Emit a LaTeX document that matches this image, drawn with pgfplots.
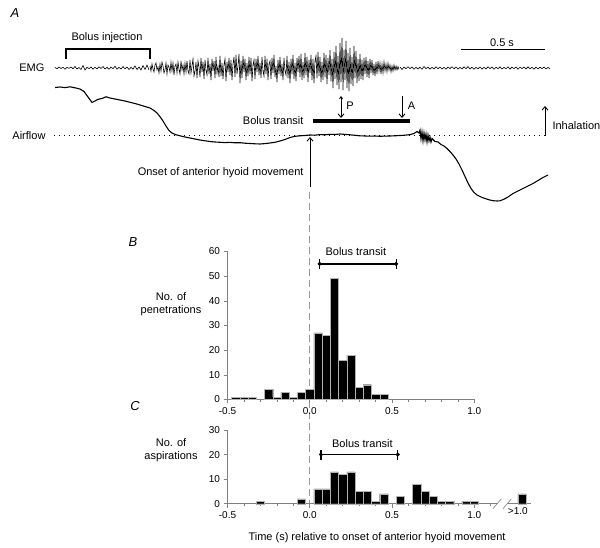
\documentclass[border=0pt]{standalone}
\usepackage{pgfplots}
\pgfplotsset{compat=1.18}
\usetikzlibrary{arrows.meta}
\usepackage{fontspec}
\setmainfont{Liberation Sans}
\newcommand{\lbl}{\fontsize{11}{13.5}\selectfont}
\newcommand{\tkl}{\fontsize{10}{12}\selectfont}
\newcommand{\pnl}{\fontsize{13}{15}\selectfont\itshape}
\pgfplotstableread{
x y
-0.45 1
-0.40 1
-0.35 1
-0.25 4
-0.20 1
-0.15 3
-0.10 1
-0.05 3
0.00 4
0.05 27
0.10 26
0.15 49
0.20 16
0.25 18
0.30 5
0.35 6
0.40 2
0.45 2
}\pen
\pgfplotstableread{
x y
-0.30 1
-0.05 2
0.05 6
0.10 6
0.15 13
0.20 12
0.25 13
0.30 5
0.35 5
0.40 1
0.45 4
0.55 3
0.65 8
0.70 5
0.75 3
0.80 1
0.85 1
0.95 1
1.00 1
1.29 4
}\asp
\pgfplotsset{
  histo/.style={
    scale only axis, enlargelimits=false, clip=false,
    axis x line*=bottom, axis y line*=left,
    axis line style={-, gray, line width=0.6pt},
    tick align=outside, major tick length=4pt, minor tick length=2.5pt,
    tick style={gray, line width=0.6pt},
    ticklabel style={font=\tkl, black},
    /pgf/number format/assume math mode=true,
    xtick={-0.5,0,0.5,1}, xticklabels={-0.5,0.0,0.5,1.0},
  },
  hbar/.style={ybar, bar width=0.05, bar shift=0pt, fill=black, draw=gray!60, line width=0.3pt},
}
\tikzset{arr/.style={black, line width=0.9pt, -{Straight Barb[length=3.5pt,width=6pt]}}}
\begin{document}
\begin{tikzpicture}[x=1pt,y=1pt]
\path[use as bounding box] (0,0) rectangle (600,548);
% ---------------- Panel A (image-pixel coordinates) ----------------
\begin{axis}[at={(0,0)}, anchor=south west, scale only axis, width=600pt, height=548pt,
  xmin=0, xmax=600, ymin=0, ymax=548, y dir=reverse, hide axis, clip=false]
% EMG trace: quiet start (2 px steps)
\addplot[black, line width=0.6pt] table[row sep=\\, x expr={55+2*\coordindex}, y expr={68-\thisrow{d}}] {
d\\ 0.5\\ -0.8\\ 1\\ -0.5\\ 0.8\\ -1.2\\ 0.6\\ -0.4\\ 1\\ -0.8\\ 1.5\\ -1\\ 0.5\\ -1.5\\ 2.5\\ -2\\ 0.8\\ -0.6\\ 1\\ -1.2\\
0.7\\ -0.9\\ 1.2\\ -0.5\\ 1.5\\ -1\\ 0.6\\ -1.3\\ 0.9\\ -0.7\\ 1.8\\ -1.2\\ 0.6\\ -1\\ 1.4\\ -0.8\\ 1\\ -1.5\\ 0.7\\ -1.1\\
2\\ -1.5\\ 1\\ -2\\ 2.5\\ -1.5\\ 3\\ -2\\
};
% EMG trace: active part (1 px steps)
\addplot[black, line width=0.6pt] table[row sep=\\, x expr={150+\coordindex}, y expr={68-\thisrow{d}}] {
d\\ 2\\ -3\\ 4\\ -1\\ -4\\ 3\\ 5\\ -2\\ 1\\ -5\\
4\\ -3\\ 6\\ 2\\ -5\\ -2\\ 5\\ -6\\ 3\\ 1\\
-4\\ 6\\ -3\\ 5\\ -7\\ 2\\ 4\\ -5\\ 6\\ -1\\
-6\\ 7\\ -2\\ 3\\ -6\\ 5\\ -4\\ 7\\ -3\\ -6\\
8\\ -5\\ 2\\ 9\\ -8\\ -3\\ 6\\ -10\\ 7\\ 1\\
-9\\ 10\\ -4\\ 6\\ -11\\ 8\\ -2\\ -7\\ 10\\ -6\\
4\\ -12\\ 9\\ -3\\ 7\\ -10\\ 11\\ -5\\ 2\\ -9\\
12\\ -8\\ 5\\ -11\\ 3\\ 9\\ -13\\ 6\\ -4\\ 10\\
-7\\ 8\\ -12\\ 4\\ 11\\ -9\\ 13\\ -6\\ 2\\ 14\\
-15\\ 7\\ -10\\ 12\\ -4\\ 9\\ -12\\ 5\\ -8\\ 11\\
-6\\ 10\\ -13\\ 3\\ 8\\ -11\\ 9\\ -4\\ 12\\ -7\\
5\\ -10\\ 11\\ -3\\ -8\\ 12\\ -6\\ 9\\ -12\\ 4\\
7\\ -11\\ 10\\ -5\\ 13\\ -9\\ 2\\ -14\\ 8\\ -6\\
11\\ -8\\ 4\\ -12\\ 10\\ -3\\ -7\\ 12\\ -10\\ 6\\
-15\\ 9\\ -6\\ 13\\ -11\\ 5\\ -13\\ 10\\ -4\\ 12\\
-9\\ 14\\ -12\\ 6\\ -10\\ 15\\ -7\\ 11\\ -14\\ 8\\
-5\\ 13\\ -12\\ 9\\ -15\\ 7\\ 12\\ -10\\ 16\\ -8\\
11\\ -14\\ 6\\ -12\\ 15\\ -9\\ 13\\ -16\\ 10\\ -7\\
18\\ -13\\ 9\\ -20\\ 16\\ -11\\ 22\\ -17\\ 12\\ -21\\
25\\ -14\\ 30\\ -22\\ 18\\ -12\\ 27\\ -20\\ 15\\ -23\\
20\\ -16\\ 11\\ -18\\ 22\\ -10\\ 17\\ -15\\ 9\\ -13\\
14\\ -11\\ 8\\ -12\\ 10\\ -6\\ 11\\ -9\\ 7\\ -10\\
9\\ -5\\ 8\\ -7\\ 4\\ -8\\ 6\\ -6\\ 7\\ -3\\
5\\ -6\\ 4\\ -5\\ 6\\ -3\\ 4\\ -4\\ 5\\ -2\\
3\\ -4\\ 2\\ -3\\ 3\\ -2\\ 2\\ -2\\ 1.5\\ -1.5\\
};
% EMG trace: quiet end (2 px steps)
\addplot[black, line width=0.6pt] table[row sep=\\, x expr={400+2*\coordindex}, y expr={68-\thisrow{d}}] {
d\\ 1\\ -1.5\\ 1\\ -0.8\\ 1.2\\ -0.6\\ 1\\ -1.3\\ 0.7\\ -1\\ 0.8\\ -1.2\\ 1.5\\ -0.7\\ 0.9\\ -1.1\\ 0.6\\ -0.9\\ 1.2\\ -0.8\\
1\\ -1\\ 0.7\\ -1.2\\ 0.9\\ -0.6\\ 1.3\\ -0.8\\ 1\\ -1.1\\ 0.6\\ -0.9\\ 1.1\\ -0.7\\ 1.4\\ -1\\ 0.8\\ -1.2\\ 0.6\\ -0.8\\
1\\ -1.1\\ 0.7\\ -0.9\\ 1.2\\ -0.6\\ 1\\ -1.3\\ 0.8\\ -0.7\\ 1.1\\ -1\\ 0.6\\ -0.8\\ 1.2\\ -1.1\\ 0.9\\ -0.7\\ 1\\ -1.2\\
0.8\\ -0.6\\ 1\\ -0.9\\ 1.1\\ -0.8\\ 0.7\\ -1.2\\ 0.9\\ -1\\ 0.8\\ -0.7\\ 1\\ -0.9\\ 0.6\\ -1\\
};
% Airflow baseline (dotted)
\addplot[black, line width=1pt, dash pattern=on 1pt off 4pt] coordinates {(54,136) (545,136)};
% Airflow trace
\addplot[black, line width=1.1pt] coordinates {
(55,87.5) (60,87) (65,87.6) (70,86.8) (75,87.8) (80,89) (84,91.5) (88,97) (92,102.5) (95,101)
(98,99.3) (102,98.5) (106,96.8) (110,98) (115,99) (120,100) (125,101) (130,102.3) (135,103.5) (140,105)
(145,106.5) (150,108) (154,110.5) (157,113) (160,116.7) (163,121) (166,126) (169,130.5) (172,133) (176,134.8)
(180,135.8) (185,137) (190,138) (195,139) (200,140) (205,140.8) (210,141.5) (215,142) (220,142.3) (225,142.6)
(230,142.4) (235,142.8) (240,142.7) (245,143.2) (250,143.5) (255,143.8) (260,144) (265,143.6) (270,143) (275,142.3)
(280,141) (285,139.5) (290,137.5) (295,136.3) (300,135.8) (305,135.5) (310,135) (315,135.2) (320,134.6) (325,134.8)
(330,134.3) (335,134.5) (340,134) (345,134.4) (350,134.8) (355,135.3) (360,135.8) (365,136) (370,136.2) (375,136)
(380,136.3) (385,136.1) (390,136) (395,135.8) (400,135.5) (405,135.2) (410,134.6) (414,133.5) (417,131.5) (419,133)
(420,130) (421,139) (422,132) (423,141) (424,133) (425,140) (426,134) (427,142) (428,135) (429,141) (430,137) (431,142) (432,138.5)
(435,141.5) (438,142) (441,144.5) (444,146) (447,148.5) (450,151.5) (453,155) (456,159) (459,164) (462,170)
(465,176.5) (468,183) (471,188.5) (474,192.5) (477,195) (481,197) (485,198.5) (489,199.8) (493,200.7) (497,201)
(500,200.8) (504,199.2) (508,197) (513,193.5) (518,191) (523,188.5) (528,186) (533,183.5) (538,180.5) (543,177.5) (548,175)
};
% annotations
\node[font=\pnl] at (15,13) {A};
\node[font=\lbl, anchor=east] at (48,68) {EMG};
\node[font=\lbl, anchor=east] at (49,136) {Airflow};
\node[font=\lbl] at (107,37.5) {Bolus injection};
\draw[black, line width=1.5pt] (66,59.5) -- (66,49) -- (150,49) -- (150,59.5);
\node[font=\lbl] at (502,43) {0.5 s};
\draw[black, line width=1.5pt] (461,49.3) -- (545,49.3);
\node[font=\lbl, anchor=east] at (307,120.5) {Bolus transit};
\draw[black, line width=4pt] (312.7,120.7) -- (410,120.7);
\draw[arr] (341,97) -- (341,118);
\draw[black, line width=0.9pt, -{Straight Barb[length=2pt,width=3pt]}] (341,100) -- (341,96);
\node[font=\lbl] at (350,106) {P};
\draw[arr] (402,96) -- (402,118);
\node[font=\lbl] at (411.5,106) {A};
\draw[arr] (545,136) -- (545,106);
\node[font=\lbl, anchor=west] at (549,126) {Inhalation};
\draw[arr] (310,187) -- (310,137);
\node[font=\lbl, anchor=east] at (307,172.7) {Onset of anterior hyoid movement};
\draw[gray!80, line width=0.7pt, dash pattern=on 7pt off 4pt] (309.7,192) -- (309.7,503.7);
\node[font=\pnl] at (133,242) {B};
\node[font=\pnl] at (135,406) {C};
\node[font=\lbl, align=center] at (171,304) {No. of\\penetrations};
\node[font=\lbl, align=center] at (171,450) {No. of\\aspirations};
\node[font=\lbl] at (377,538) {Time (s) relative to onset of anterior hyoid movement};
\end{axis}
% ---------------- Panel B ----------------
\begin{axis}[histo, at={(227.5pt,148.5pt)}, anchor=south west,
  width=246.75pt, height=148pt, xmin=-0.5, xmax=1.0, ymin=0, ymax=60,
  minor xtick={-0.4,-0.3,-0.2,-0.1,0.1,0.2,0.3,0.4,0.6,0.7,0.8,0.9},
  ytick={0,10,...,60}]
\addplot[hbar] table[x=x, y=y] {\pen};
\addplot[black, line width=1.6pt, mark=|, mark size=5pt, mark options={line width=1.2pt}] coordinates {(0.06,55) (0.525,55)};
\addplot[black, only marks, mark=*, mark size=1.8pt] coordinates {(0.06,55) (0.525,55)};
\node[font=\lbl] at (0.28,59.8) {Bolus transit};
\end{axis}
% ---------------- Panel C ----------------
\begin{axis}[histo, at={(227.5pt,44.3pt)}, anchor=south west,
  width=303.5pt, height=73.7pt, xmin=-0.5, xmax=1.345, ymin=0, ymax=30,
  minor xtick={-0.4,-0.3,-0.2,-0.1,0.1,0.2,0.3,0.4,0.6,0.7,0.8,0.9,1.1},
  ytick={0,10,20,30},
  extra x ticks={1.265}, extra x tick labels={>1.0},
  extra x tick style={major tick length=0pt}]
\addplot[hbar] table[x=x, y=y] {\asp};
\addplot[black, line width=1.6pt, mark=|, mark size=5pt, mark options={line width=1.2pt}] coordinates {(0.068,20) (0.535,20)};
\addplot[black, only marks, mark=*, mark size=1.8pt] coordinates {(0.068,20) (0.535,20)};
\node[font=\lbl] at (0.32,24.3) {Bolus transit};
\fill[white] (1.14,-1) rectangle (1.2,1);
\draw[gray, line width=0.6pt] (1.114,-2) -- (1.165,2);
\draw[gray, line width=0.6pt] (1.175,-2) -- (1.226,2);
\end{axis}
\end{tikzpicture}
\end{document}
